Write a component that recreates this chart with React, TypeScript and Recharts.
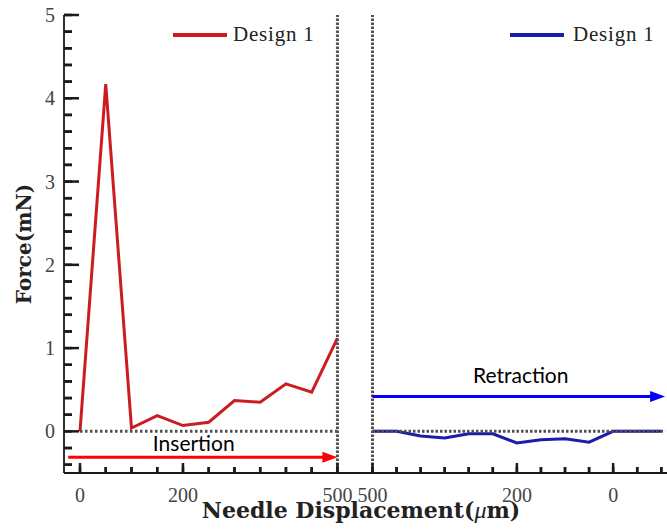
import React from 'react';
import { LineChart, Line, XAxis, YAxis, ReferenceLine, ReferenceDot, Legend } from 'recharts';

// ---- data ----
const insertionDisplacement = [0, 50, 100, 150, 200, 250, 300, 350, 400, 450, 500];
const insertionForce = [0, 4.17, 0.04, 0.19, 0.07, 0.11, 0.37, 0.35, 0.57, 0.47, 1.12];
const retractionDisplacement = [500, 450, 400, 350, 300, 250, 200, 150, 100, 50, 0, -50, -100];
const retractionForce = [0, 0, -0.055, -0.08, -0.03, -0.03, -0.14, -0.1, -0.09, -0.13, 0, 0, 0];

const seriesName = 'Design 1';
const xTitle = 'Needle Displacement(';
const yTitle = 'Force(mN)';
const insertionLabel = 'Insertion';
const retractionLabel = 'Retraction';

// ---- ticks ----
const insertionTicks = [0, 50, 100, 150, 200, 250, 300, 350, 400, 450, 500];
const insertionTickLabels = [0, 200, 500];
const retractionTicks = [500, 450, 400, 350, 300, 250, 200, 150, 100, 50, 0, -50, -100];
const retractionTickLabels = [500, 200, 0];
const forceTicks = [-0.4, -0.2, 0, 0.2, 0.4, 0.6, 0.8, 1, 1.2, 1.4, 1.6, 1.8, 2, 2.2, 2.4, 2.6, 2.8, 3, 3.2, 3.4, 3.6, 3.8, 4, 4.2, 4.4, 4.6, 4.8, 5];
const forceTickLabels = [0, 1, 2, 3, 4, 5];

const insertionData = insertionDisplacement.map((d, i) => ({ d, f: insertionForce[i] }));
const retractionData = retractionDisplacement.map((d, i) => ({ d, f: retractionForce[i] }));

// ---- style / layout ----
const H = 531;
const LEFT_W = 355;
const RIGHT_W = 312;
const RED = '#cc1c22';
const BLUE = '#1c1caa';
const AXIS = '#1a1a1a';
const DOT_COLOR = '#505050';
const SERIF = '"Liberation Serif", "Times New Roman", serif';
const BOLD_SERIF = '"DejaVu Serif", serif';
const SANS = 'Lato, "Open Sans", sans-serif';
const leftMargin = { top: 15, right: 0, bottom: 28, left: 0 };
const rightMargin = { top: 15, right: 0, bottom: 28, left: 0 };
const X_MINOR = 6;
const X_MAJOR = 10;
const Y_MINOR = 8;
const Y_MAJOR = 15;
const TICK_W = 2.5;

const near = (a: number, list: number[]) => list.some((v) => Math.abs(v - a) < 1e-6);

// native inward tick lines (negative tickSize) + longer major marks and labels
const makeXTick = (labels: number[]) => (props: any) => {
  const x = Number(props.x);
  const axisY = Number(props.y) + X_MINOR;
  const value = props.payload.value;
  const major = near(value, labels);
  return (
    <g>
      <rect x={x - TICK_W / 2} y={axisY - (major ? X_MAJOR : X_MINOR)} width={TICK_W} height={major ? X_MAJOR : X_MINOR} fill={AXIS} />
      {major && (
        <text x={x} y={axisY + 29} textAnchor="middle" fontFamily={SERIF} fontSize={20} fill="#444">
          {value}
        </text>
      )}
    </g>
  );
};

const YTick = (props: any) => {
  const axisX = Number(props.x) - Y_MINOR;
  const y = Number(props.y);
  const value = props.payload.value;
  const major = near(value, forceTickLabels);
  return (
    <g>
      <rect x={axisX} y={y - TICK_W / 2} width={major ? Y_MAJOR : Y_MINOR} height={TICK_W} fill={AXIS} />
      {major && (
        <text x={axisX - 9} y={y + 7} textAnchor="end" fontFamily={SERIF} fontSize={20} fill="#444">
          {Math.round(value)}
        </text>
      )}
    </g>
  );
};

const arrowShape = (color: string) => (props: any) => {
  const { x1, y1, x2, y2 } = props;
  const head = 15;
  const half = 5.5;
  return (
    <g>
      <line x1={x1} y1={y1} x2={x2 - head + 1} y2={y2} stroke={color} strokeWidth={3} />
      <polygon points={`${x2},${y2} ${x2 - head},${y2 - half} ${x2 - head},${y2 + half}`} fill={color} />
    </g>
  );
};

const textShape = (label: string) => (props: any) => (
  <text x={props.cx} y={props.cy} textAnchor="middle" fontFamily={SANS} fontSize={21} fill="#000">
    {label}
  </text>
);

const legendContent = (color: string, textGap: number) => (props: any) => {
  const item = props.payload && props.payload[0];
  const label = item ? item.value : seriesName;
  return (
    <svg width={160} height={30} style={{ display: 'block' }}>
      <line x1={3} x2={57} y1={15} y2={15} stroke={color} strokeWidth={4} />
      <text x={57 + textGap} y={21} fontFamily={SERIF} fontSize={21} letterSpacing={0.8} fill="#222">
        {label}
      </text>
    </svg>
  );
};

const XTitle = (props: any) => {
  const vb = props.viewBox || {};
  const cx = 361;
  return (
    <text x={cx} y={vb.y + 45} textAnchor="middle" fontFamily={BOLD_SERIF} fontSize={22} fill="#222">
      <tspan fontWeight="bold">{xTitle}</tspan>
      <tspan fontStyle="italic" fontFamily={SERIF} fontSize={24}>μ</tspan>
      <tspan fontWeight="bold">m)</tspan>
    </text>
  );
};

const YTitle = (props: any) => {
  const vb = props.viewBox || {};
  const cy = vb.y + vb.height / 2;
  return (
    <text
      x={24}
      y={cy}
      transform={`rotate(-90, 24, ${cy})`}
      textAnchor="middle"
      dominantBaseline="central"
      fontFamily={BOLD_SERIF}
      fontWeight="bold"
      fontSize={20}
      fill="#222"
    >
      {yTitle}
    </text>
  );
};

export default function App() {
  return (
    <div style={{ position: 'absolute', left: 0, top: 0, width: LEFT_W + RIGHT_W, height: H, background: '#fff' }}>
      <style>{'.recharts-surface{overflow:visible}'}</style>
      <div style={{ position: 'absolute', left: 0, top: 0 }}>
        <LineChart width={LEFT_W} height={H} data={insertionData} margin={leftMargin}>
          <XAxis
            type="number"
            dataKey="d"
            domain={[-31.07, 534.1]}
            allowDataOverflow
            ticks={insertionTicks}
            interval={0}
            height={30}
            tickSize={-X_MINOR}
            tickMargin={0}
            tickLine={{ stroke: AXIS, strokeWidth: TICK_W }}
            axisLine={{ stroke: AXIS, strokeWidth: 1.8 }}
            tick={makeXTick(insertionTickLabels)}
            label={<XTitle />}
          />
          <YAxis
            type="number"
            domain={[-0.5, 5]}
            allowDataOverflow
            ticks={forceTicks}
            interval={0}
            width={64}
            tickSize={-Y_MINOR}
            tickMargin={0}
            tickLine={{ stroke: AXIS, strokeWidth: TICK_W }}
            axisLine={{ stroke: AXIS, strokeWidth: 1.8 }}
            tick={YTick}
            label={<YTitle />}
          />
          <Line
            type="linear"
            dataKey="f"
            name={seriesName}
            stroke={RED}
            strokeWidth={3}
            dot={false}
            isAnimationActive={false}
          />
          <ReferenceLine segment={[{ x: 0, y: 0 }, { x: 500, y: 0 }]} stroke={DOT_COLOR} strokeWidth={3} strokeDasharray="2.5 2.5" />
          <ReferenceLine x={500} stroke={DOT_COLOR} strokeWidth={3} strokeDasharray="2.4 1.6" />
          <ReferenceLine segment={[{ x: -23, y: -0.31 }, { x: 500, y: -0.31 }]} shape={arrowShape('#ff0000')} />
          <ReferenceDot x={221} y={-0.23} r={0} shape={textShape(insertionLabel)} />
          <Legend
            layout="horizontal"
            align="center"
            verticalAlign="middle"
            content={legendContent(RED, 6)}
            wrapperStyle={{ left: 170, top: 20, width: 'auto', height: 'auto' }}
          />
        </LineChart>
      </div>
      <div style={{ position: 'absolute', left: LEFT_W, top: 0 }}>
        <LineChart width={RIGHT_W} height={H} data={retractionData} margin={rightMargin}>
          <XAxis
            type="number"
            dataKey="d"
            domain={[-111.9, 536.36]}
            reversed
            allowDataOverflow
            ticks={retractionTicks}
            interval={0}
            height={30}
            tickSize={-X_MINOR}
            tickMargin={0}
            tickLine={{ stroke: AXIS, strokeWidth: TICK_W }}
            axisLine={{ stroke: AXIS, strokeWidth: 1.8 }}
            tick={makeXTick(retractionTickLabels)}
          />
          <YAxis type="number" domain={[-0.5, 5]} allowDataOverflow hide />
          <Line
            type="linear"
            dataKey="f"
            name={seriesName}
            stroke={BLUE}
            strokeWidth={3}
            dot={false}
            isAnimationActive={false}
          />
          <ReferenceLine segment={[{ x: 500, y: 0 }, { x: -108, y: 0 }]} stroke={DOT_COLOR} strokeWidth={3} strokeDasharray="2.5 2" />
          <ReferenceLine x={500} stroke={DOT_COLOR} strokeWidth={3} strokeDasharray="2.4 1.6" />
          <ReferenceLine segment={[{ x: 500, y: 0.42 }, { x: -108, y: 0.42 }]} shape={arrowShape('#0000ff')} />
          <ReferenceDot x={192} y={0.585} r={0} shape={textShape(retractionLabel)} />
          <Legend
            layout="horizontal"
            align="center"
            verticalAlign="middle"
            content={legendContent(BLUE, 9)}
            wrapperStyle={{ left: 152, top: 20, width: 'auto', height: 'auto' }}
          />
        </LineChart>
      </div>
    </div>
  );
}
